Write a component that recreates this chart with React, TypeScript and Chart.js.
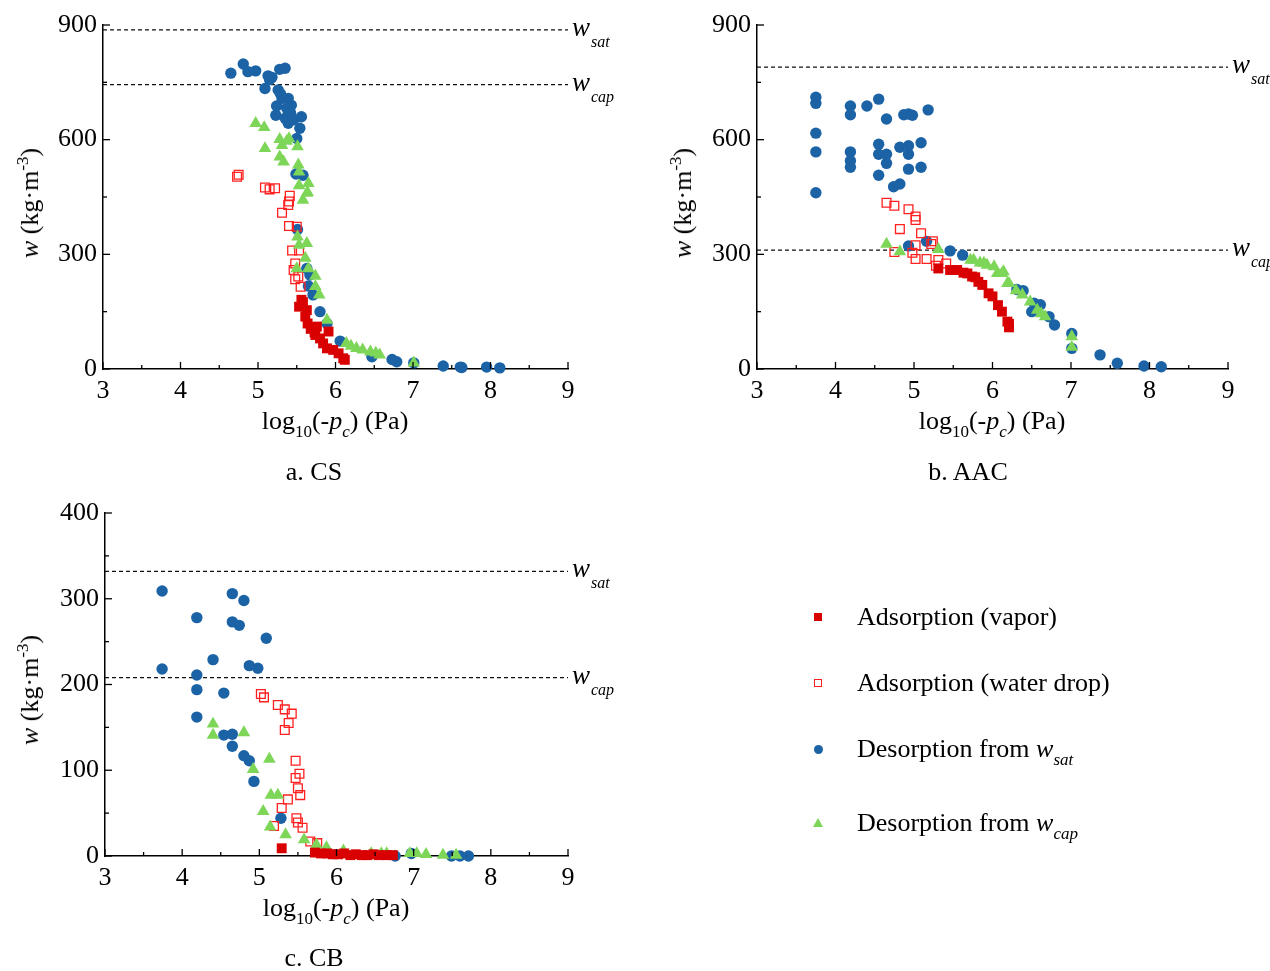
import React, { useEffect, useRef } from 'react';
import { Chart, registerables } from 'chart.js';

Chart.register(...registerables);

const W = 1270;
const H = 971;
const FONT = "'Liberation Serif', 'Times New Roman', serif";
const BLUE = '#1c63a6';
const GREEN = '#7ed659';
const RED = '#d80000';
const RED_OPEN = '#ff2020';

const xTicks = [3, 4, 5, 6, 7, 8, 9];

// ---------- a. CS ----------
const csVaporX = [5.56, 5.53, 5.58, 5.63, 5.61, 5.64, 5.68, 5.73, 5.76, 5.74, 5.80, 5.91, 5.84, 5.89, 5.97, 6.04, 6.10, 6.12];
const csVaporY = [181, 163, 175, 154, 137, 119, 105, 96, 111, 89, 80, 98, 67, 54, 50, 41, 28, 24];
const csDropX = [4.73, 4.75, 5.09, 5.15, 5.22, 5.41, 5.39, 5.40, 5.31, 5.40, 5.50, 5.44, 5.53, 5.48, 5.46, 5.52, 5.48, 5.55];
const csDropY = [503, 508, 475, 470, 473, 453, 429, 438, 409, 374, 372, 310, 310, 276, 259, 242, 235, 215];
const csSatX = [4.65, 4.81, 4.87, 4.97, 5.13, 5.18, 5.15, 5.28, 5.35, 5.09, 5.26, 5.31, 5.39, 5.29, 5.24, 5.37, 5.43, 5.23, 5.35, 5.46, 5.56, 5.39, 5.42, 5.54, 5.50, 5.49, 5.58, 5.51, 5.63, 5.67, 5.65, 5.71, 5.80, 5.89, 6.06, 6.47, 6.73, 6.79, 7.01, 7.39, 7.61, 7.63, 7.95, 8.12];
const csSatY = [774, 798, 778, 780, 767, 763, 757, 784, 787, 734, 730, 708, 708, 720, 688, 682, 690, 664, 656, 652, 660, 643, 670, 630, 603, 510, 507, 365, 263, 246, 217, 194, 150, 119, 73, 32, 25, 19, 16, 8, 5, 4, 5, 3];
const csCapX = [4.97, 5.08, 5.09, 5.28, 5.37, 5.40, 5.28, 5.33, 5.31, 5.51, 5.52, 5.53, 5.65, 5.53, 5.64, 5.58, 5.63, 5.51, 5.63, 5.53, 5.61, 5.50, 5.65, 5.74, 5.74, 5.79, 5.89, 6.14, 6.20, 6.27, 6.35, 6.45, 6.52, 6.57, 7.01];
const csCapY = [643, 632, 577, 601, 596, 603, 555, 542, 585, 582, 534, 516, 486, 480, 462, 442, 460, 346, 329, 324, 290, 263, 263, 243, 216, 194, 128, 67, 60, 54, 50, 45, 42, 37, 16];
const csWSat = 887;
const csWCap = 744;

// ---------- b. AAC ----------
const aacVaporX = [5.31, 5.46, 5.55, 5.63, 5.68, 5.74, 5.78, 5.82, 5.87, 5.95, 6.00, 6.07, 6.12, 6.19, 6.21, 6.21];
const aacVaporY = [263, 259, 259, 252, 250, 242, 240, 228, 220, 198, 190, 167, 150, 124, 118, 109];
const aacDropX = [4.65, 4.75, 4.93, 5.02, 5.02, 4.82, 5.09, 5.24, 5.22, 5.02, 4.75, 4.98, 5.02, 5.16, 5.31, 5.28, 5.41];
const aacDropY = [435, 427, 418, 399, 390, 366, 355, 334, 327, 324, 306, 304, 288, 288, 285, 270, 276];
const aacSatX = [3.75, 3.75, 3.75, 3.75, 3.75, 4.19, 4.19, 4.19, 4.19, 4.19, 4.40, 4.55, 4.55, 4.55, 4.55, 4.65, 4.65, 4.65, 4.74, 4.82, 4.82, 4.87, 4.93, 4.93, 4.93, 4.93, 4.98, 5.09, 5.09, 5.18, 4.93, 5.16, 5.46, 5.62, 6.31, 6.39, 6.50, 6.53, 6.61, 6.72, 6.79, 7.01, 7.01, 7.37, 7.59, 7.93, 8.15];
const aacSatY = [711, 695, 617, 568, 461, 688, 665, 568, 545, 528, 688, 706, 588, 562, 507, 654, 562, 538, 477, 484, 580, 665, 667, 584, 562, 523, 664, 592, 528, 678, 322, 334, 309, 298, 208, 205, 150, 172, 168, 137, 115, 93, 54, 37, 15, 8, 6];
const aacCapX = [4.65, 4.82, 5.31, 5.72, 5.76, 5.84, 5.89, 5.93, 6.02, 6.06, 6.12, 6.14, 6.19, 6.21, 6.30, 6.38, 6.48, 6.57, 6.62, 6.67, 7.01, 7.01];
const aacCapY = [327, 307, 313, 285, 285, 278, 277, 272, 268, 250, 250, 255, 224, 224, 205, 194, 176, 154, 145, 137, 85, 57];
const aacWSat = 790;
const aacWCap = 311;

// ---------- c. CB ----------
const cbVaporX = [5.29, 5.72, 5.80, 5.88, 5.95, 6.02, 6.10, 6.18, 6.25, 6.33, 6.40, 6.48, 6.55, 6.65, 6.73];
const cbVaporY = [9, 4, 3, 3, 2, 2, 3, 1, 2, 1, 1, 2, 1, 1, 1];
const cbDropX = [5.02, 5.06, 5.24, 5.33, 5.42, 5.38, 5.33, 5.47, 5.52, 5.47, 5.50, 5.53, 5.37, 5.29, 5.48, 5.50, 5.56, 5.19, 5.66, 5.75];
const cbDropY = [189, 185, 176, 171, 166, 155, 147, 111, 96, 91, 79, 71, 66, 56, 44, 39, 33, 35, 17, 15];
const cbSatX = [3.74, 3.74, 4.19, 4.19, 4.19, 4.19, 4.40, 4.54, 4.65, 4.65, 4.74, 4.80, 5.09, 4.87, 4.98, 4.54, 4.65, 4.65, 4.80, 4.87, 4.93, 5.28, 6.76, 6.97, 7.49, 7.60, 7.71];
const cbSatY = [309, 218, 278, 211, 194, 162, 229, 190, 306, 273, 269, 298, 254, 222, 219, 141, 142, 128, 117, 111, 87, 44, 0, 3, 0, 0, 0];
const cbCapX = [4.40, 4.40, 4.80, 5.13, 4.92, 5.15, 5.24, 5.05, 5.14, 5.34, 5.58, 5.74, 5.87, 6.09, 6.45, 6.58, 6.65, 6.95, 7.04, 7.16, 7.38, 7.55];
const cbCapY = [154, 141, 144, 113, 101, 71, 71, 52, 34, 25, 19, 13, 10, 6, 3, 3, 3, 3, 3, 2, 1, 1];
const cbWSat = 332;
const cbWCap = 208;

type Panel = {
  left: number; right: number; top: number; bottom: number; yAxisW: number;
  yMax: number; yStep: number; wSat: number; wCap: number;
  vx: number[]; vy: number[]; dx: number[]; dy: number[];
  sx: number[]; sy: number[]; cx: number[]; cy: number[];
};

const panels: Panel[] = [
  { left: 103, right: 568, top: 25, bottom: 369, yAxisW: 103, yMax: 900, yStep: 300, wSat: csWSat, wCap: csWCap,
    vx: csVaporX, vy: csVaporY, dx: csDropX, dy: csDropY, sx: csSatX, sy: csSatY, cx: csCapX, cy: csCapY },
  { left: 757, right: 1228, top: 25, bottom: 369, yAxisW: 100, yMax: 900, yStep: 300, wSat: aacWSat, wCap: aacWCap,
    vx: aacVaporX, vy: aacVaporY, dx: aacDropX, dy: aacDropY, sx: aacSatX, sy: aacSatY, cx: aacCapX, cy: aacCapY },
  { left: 105, right: 568, top: 513, bottom: 856, yAxisW: 105, yMax: 400, yStep: 100, wSat: cbWSat, wCap: cbWCap,
    vx: cbVaporX, vy: cbVaporY, dx: cbDropX, dy: cbDropY, sx: cbSatX, sy: cbSatY, cx: cbCapX, cy: cbCapY },
];

const zip = (xs: number[], ys: number[]) => xs.map((x, i) => ({ x, y: ys[i] }));

function makeConfig(p: Panel): any {
  const hline = (v: number) => ({
    data: [{ x: xTicks[0], y: v }, { x: xTicks[xTicks.length - 1], y: v }],
    showLine: true, pointRadius: 0, borderColor: '#111', borderWidth: 1.2, borderDash: [4, 3],
    backgroundColor: 'transparent', order: 10, clip: false,
  });
  const innerTicks = {
    id: 'innerTicks',
    afterDraw(chart: any) {
      const { ctx, chartArea } = chart;
      const xs = chart.scales.x;
      const ys = chart.scales.y;
      ctx.save();
      ctx.strokeStyle = '#000';
      ctx.lineWidth = 1.3;
      for (let v = xs.min; v <= xs.max + 1e-6; v += 0.5) {
        const px = xs.getPixelForValue(v);
        const major = Math.abs(v - Math.round(v)) < 1e-6;
        ctx.beginPath();
        ctx.moveTo(px, chartArea.bottom);
        ctx.lineTo(px, chartArea.bottom - (major ? 7 : 4));
        ctx.stroke();
      }
      for (let v = 0; v <= ys.max + 1e-6; v += p.yStep / 2) {
        const py = ys.getPixelForValue(v);
        const major = Math.abs(v / p.yStep - Math.round(v / p.yStep)) < 1e-6;
        ctx.beginPath();
        ctx.moveTo(chartArea.left, py);
        ctx.lineTo(chartArea.left + (major ? 7 : 4), py);
        ctx.stroke();
      }
      ctx.restore();
    },
  };
  const wLabels = {
    id: 'wLabels',
    afterDraw(chart: any) {
      const { ctx, chartArea } = chart;
      const ys = chart.scales.y;
      const x0 = chartArea.right + 4;
      const items: [number, string][] = [[p.wSat, 'sat'], [p.wCap, 'cap']];
      items.forEach(([v, sub]) => {
        const y = ys.getPixelForValue(v);
        ctx.save();
        ctx.fillStyle = '#000';
        ctx.textAlign = 'left';
        ctx.textBaseline = 'alphabetic';
        ctx.font = `italic 27px ${FONT}`;
        ctx.fillText('w', x0, y + 6);
        const ww = ctx.measureText('w').width;
        ctx.font = `italic 16px ${FONT}`;
        ctx.fillText(sub, x0 + ww + 1, y + 17);
        ctx.restore();
      });
    },
  };
  return {
    type: 'scatter',
    data: {
      datasets: [
        hline(p.wSat),
        hline(p.wCap),
        { label: 'Desorption from w_sat', data: zip(p.sx, p.sy), pointStyle: 'circle', pointRadius: 5.7,
          backgroundColor: BLUE, borderWidth: 0, order: 4, clip: false },
        { label: 'Adsorption (water drop)', data: zip(p.dx, p.dy), pointStyle: 'rect', pointRadius: 6.2,
          backgroundColor: 'rgba(255,255,255,0)', borderColor: RED_OPEN, borderWidth: 1.3, order: 3, clip: false },
        { label: 'Desorption from w_cap', data: zip(p.cx, p.cy), pointStyle: 'triangle', pointRadius: 7.3,
          backgroundColor: GREEN, borderWidth: 0, order: 2, clip: false },
        { label: 'Adsorption (vapor)', data: zip(p.vx, p.vy), pointStyle: 'rect', pointRadius: 7,
          backgroundColor: RED, borderWidth: 0, order: 1, clip: false },
      ],
    },
    options: {
      responsive: false,
      animation: false,
      events: [],
      layout: { padding: { left: p.left - p.yAxisW, top: p.top, right: W - p.right, bottom: 0 } },
      plugins: { legend: { display: false }, tooltip: { enabled: false } },
      scales: {
        x: {
          type: 'linear', min: xTicks[0], max: xTicks[xTicks.length - 1],
          afterBuildTicks: (s: any) => { s.ticks = xTicks.map((v) => ({ value: v })); },
          ticks: { color: '#000', font: { family: FONT, size: 26 }, padding: 7, autoSkip: false, maxRotation: 0 },
          grid: { display: true, drawOnChartArea: false, drawTicks: false },
          border: { display: true, color: '#000', width: 1.5 },
          afterFit: (s: any) => { s.height = H - p.bottom; },
        },
        y: {
          type: 'linear', min: 0, max: p.yMax,
          ticks: { stepSize: p.yStep, color: '#000', font: { family: FONT, size: 26 }, padding: 6, autoSkip: false },
          grid: { display: true, drawOnChartArea: false, drawTicks: false },
          border: { display: true, color: '#000', width: 1.5 },
          afterFit: (s: any) => { s.width = p.yAxisW; },
        },
      },
    },
    plugins: [innerTicks, wLabels],
  };
}

function PanelChart({ p }: { p: Panel }) {
  const ref = useRef<HTMLCanvasElement>(null);
  useEffect(() => {
    const chart = new Chart(ref.current as HTMLCanvasElement, makeConfig(p));
    return () => chart.destroy();
  }, [p]);
  return (
    <canvas ref={ref} width={W} height={H}
      style={{ position: 'absolute', left: 0, top: 0, width: W, height: H }} />
  );
}

const textBase: React.CSSProperties = {
  position: 'absolute', fontFamily: FONT, fontSize: 26, lineHeight: 1, color: '#000', whiteSpace: 'nowrap',
};
const subStyle: React.CSSProperties = { fontSize: 17, position: 'relative', top: 8 };
const supStyle: React.CSSProperties = { fontSize: 17, position: 'relative', top: -10 };

function Centered({ x, y, rotate, children }: { x: number; y: number; rotate?: boolean; children: React.ReactNode }) {
  return (
    <div style={{ ...textBase, left: x, top: y, transform: `translate(-50%, -50%)${rotate ? ' rotate(-90deg)' : ''}` }}>
      {children}
    </div>
  );
}

const XTitle = () => (
  <span>log<span style={subStyle}>10</span>(-<i>p</i><span style={{ ...subStyle, fontStyle: 'italic' }}>c</span>) (Pa)</span>
);
const YTitle = () => (
  <span><i>w</i> (kg·m<span style={supStyle}>-3</span>)</span>
);

const legendRows = [
  { y: 617, label: 'Adsorption (vapor)', sub: '', marker: 'vapor' },
  { y: 683, label: 'Adsorption (water drop)', sub: '', marker: 'drop' },
  { y: 749, label: 'Desorption from ', sub: 'sat', marker: 'sat' },
  { y: 823, label: 'Desorption from ', sub: 'cap', marker: 'cap' },
];

function Marker({ kind, x, y }: { kind: string; x: number; y: number }) {
  let st: React.CSSProperties = {};
  if (kind === 'vapor') st = { width: 8, height: 8, background: RED, left: x - 4, top: y - 4 };
  if (kind === 'drop') st = { width: 6, height: 6, border: `1.3px solid ${RED_OPEN}`, left: x - 4, top: y - 4 };
  if (kind === 'sat') st = { width: 9, height: 9, background: BLUE, borderRadius: '50%', left: x - 4.5, top: y - 4.5 };
  if (kind === 'cap') st = { width: 0, height: 0, borderLeft: '5.5px solid transparent', borderRight: '5.5px solid transparent',
    borderBottom: `9px solid ${GREEN}`, left: x - 5.5, top: y - 5 };
  return <div style={{ position: 'absolute', ...st }} />;
}

export default function App() {
  return (
    <div style={{ position: 'absolute', left: 0, top: 0, width: W, height: H, overflow: 'hidden', background: '#fff' }}>
      {panels.map((p, i) => <PanelChart key={i} p={p} />)}

      <Centered x={335} y={421}><XTitle /></Centered>
      <Centered x={992} y={421}><XTitle /></Centered>
      <Centered x={336} y={908}><XTitle /></Centered>

      <Centered x={30} y={203} rotate><YTitle /></Centered>
      <Centered x={683} y={203} rotate><YTitle /></Centered>
      <Centered x={30} y={690} rotate><YTitle /></Centered>

      <Centered x={314} y={472}>a. CS</Centered>
      <Centered x={968} y={472}>b. AAC</Centered>
      <Centered x={314} y={958}>c. CB</Centered>

      {legendRows.map((r) => (
        <React.Fragment key={r.marker}>
          <Marker kind={r.marker} x={818} y={r.y} />
          <div style={{ ...textBase, left: 857, top: r.y - 13 }}>
            {r.label}
            {r.sub ? (
              <>
                <i>w</i>
                <span style={{ ...subStyle, fontStyle: 'italic' }}>{r.sub}</span>
              </>
            ) : null}
          </div>
        </React.Fragment>
      ))}
    </div>
  );
}
